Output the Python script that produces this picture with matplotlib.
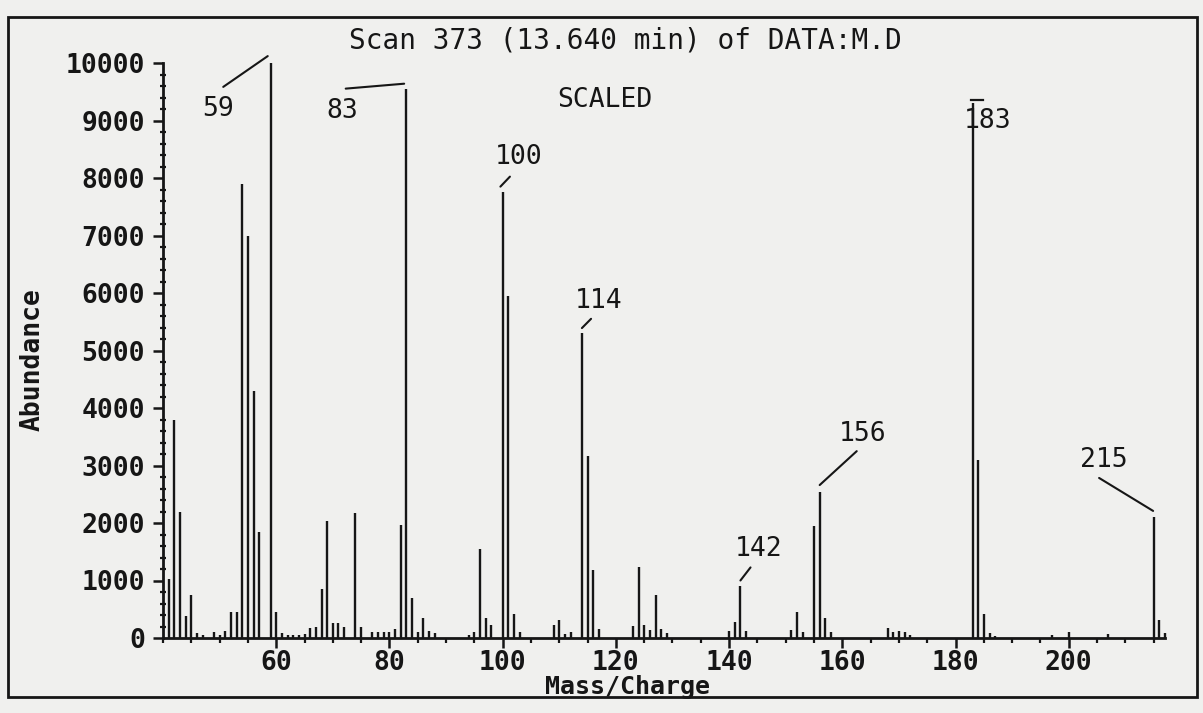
import matplotlib
matplotlib.use("Agg")
import matplotlib.pyplot as plt
from matplotlib.ticker import MultipleLocator
from matplotlib.patches import Rectangle

# ---------------- data ----------------
mz = [41, 42, 43, 44, 45, 46, 47, 49, 50, 51, 52, 53, 54, 55, 56, 57, 59, 60,
      61, 62, 63, 64, 65, 66, 67, 68, 69, 70, 71, 72, 74, 75, 77, 78, 79, 80,
      81, 82, 83, 84, 85, 86, 87, 88, 94, 95, 96, 97, 98, 100, 101, 102, 103,
      109, 110, 111, 112, 114, 115, 116, 117, 123, 124, 125, 126, 127, 128,
      129, 140, 141, 142, 143, 151, 152, 153, 155, 156, 157, 158, 168, 169,
      170, 171, 172, 183, 184, 185, 186, 187, 197, 200, 207, 215, 216, 217]
abundance = [1030, 3800, 2200, 380, 740, 80, 60, 100, 50, 130, 450, 450, 7900,
             7000, 4300, 1850, 10000, 450, 80, 50, 50, 45, 70, 175, 200, 860,
             2030, 260, 260, 200, 2170, 200, 100, 100, 100, 110, 160, 1960,
             9550, 690, 110, 340, 130, 90, 50, 110, 1540, 350, 230, 7750, 5950,
             420, 100, 230, 320, 70, 100, 5300, 3170, 1190, 150, 210, 1230, 230,
             140, 745, 150, 90, 120, 280, 900, 130, 140, 450, 110, 1950, 2540,
             350, 100, 170, 110, 120, 100, 60, 9300, 3100, 410, 80, 30, 50, 100,
             65, 2100, 320, 90]

labelled_mz = [59, 83, 100, 114, 142, 156, 183, 215]

y_ticks = [0, 1000, 2000, 3000, 4000, 5000, 6000, 7000, 8000, 9000, 10000]
x_ticks = [60, 80, 100, 120, 140, 160, 180, 200]

title = "Scan 373 (13.640 min) of DATA:M.D"
note = "SCALED"
x_label = "Mass/Charge"
y_label = "Abundance"

# ---------------- style / layout ----------------
W, H = 1203, 713
INK = "#161616"
PAPER = "#f0f0ee"
FONT = "DejaVu Sans Mono"
FS = 19

plt.rcParams["font.family"] = [FONT, "DejaVu Sans"]

fig = plt.figure(figsize=(W / 100, H / 100), dpi=100, facecolor=PAPER)
ax = fig.add_axes([163 / W, 1 - 638 / H, (1165 - 163) / W, (638 - 63) / H])
ax.set_facecolor("none")

ax.vlines(mz, 0, abundance, colors=INK, linewidth=1.7, clip_on=False)

ax.set_xlim(40, 217)
ax.set_ylim(0, 10000)

for s in ("top", "right"):
    ax.spines[s].set_visible(False)
for s in ("left", "bottom"):
    ax.spines[s].set_color(INK)
    ax.spines[s].set_linewidth(2.0)

ax.set_yticks(y_ticks)
ax.set_yticklabels([str(v) for v in y_ticks])
ax.yaxis.set_minor_locator(MultipleLocator(200))
ax.set_xticks(x_ticks)
ax.set_xticklabels([str(v) for v in x_ticks])
ax.xaxis.set_minor_locator(MultipleLocator(5))

ax.tick_params(axis="y", which="major", direction="out", length=7, width=1.8,
               pad=6, colors=INK, labelsize=FS)
ax.tick_params(axis="y", which="minor", direction="inout", length=4.5, width=1.6,
               colors=INK)
ax.tick_params(axis="x", which="major", direction="out", length=7, width=1.8,
               pad=1.5, colors=INK, labelsize=FS)
ax.tick_params(axis="x", which="minor", direction="out", length=3.5, width=1.6,
               colors=INK)
for lab in ax.get_xticklabels() + ax.get_yticklabels():
    lab.set_fontweight("bold")

# ---------------- peak labels with leader lines ----------------
peak_height = dict(zip(mz, abundance))
# (text x, text y, relpos of leader start on text, leader end dx, leader end dy, shrinkA)
label_layout = {
    59:  (49.8, 9200, (0.65, 1.35), -0.5, 120, 0),
    83:  (71.6, 9170, (0.62, 1.35), -0.4, 90, 0),
    100: (102.8, 8370, (0.38, -0.15), -0.4, 100, 3),
    114: (117.0, 5860, (0.38, -0.1), 0.0, 90, 2),
    142: (145.2, 1540, (0.37, -0.1), 0.0, 100, 2),
    156: (163.6, 3540, (0.40, -0.1), 0.0, 120, 1),
    215: (206.2, 3100, (0.40, -0.2), -0.1, 110, 0),
}
for m in labelled_mz:
    top = peak_height[m]
    if m in label_layout:
        tx, ty, rp, dx, dy, sa = label_layout[m]
        ax.annotate(str(m), xy=(m + dx, top + dy), xytext=(tx, ty),
                    textcoords="data", ha="center", va="center",
                    fontsize=FS, color=INK, annotation_clip=False,
                    arrowprops=dict(arrowstyle="-", color=INK, lw=1.5,
                                    relpos=rp, shrinkA=sa, shrinkB=0))
    else:
        ax.text(m + 2.7, top - 300, str(m), ha="center", va="center",
                fontsize=FS, color=INK)
        ax.plot([m - 0.3, m + 1.9], [top + 60, top + 60], color=INK, lw=1.6,
                clip_on=False)

# ---------------- texts ----------------
fig.text(625 / W, 1 - 41 / H, title, ha="center", va="center",
         fontsize=FS + 1, color=INK)
fig.text(605 / W, 1 - 100 / H, note, ha="center", va="center",
         fontsize=FS, color=INK)
fig.text(628 / W, 1 - 687 / H, x_label, ha="center", va="center",
         fontsize=FS - 1, fontweight="bold", color=INK)
fig.text(33 / W, 1 - 360 / H, y_label, ha="center", va="center",
         rotation=90, fontsize=FS, fontweight="bold", color=INK)

# outer frame of the printout
fig.patches.append(Rectangle((8 / W, 1 - 697 / H), (1197 - 8) / W,
                             (697 - 17) / H, transform=fig.transFigure,
                             fill=False, edgecolor=INK, linewidth=2.0))

fig.savefig("out.png", dpi=100, facecolor=PAPER)
